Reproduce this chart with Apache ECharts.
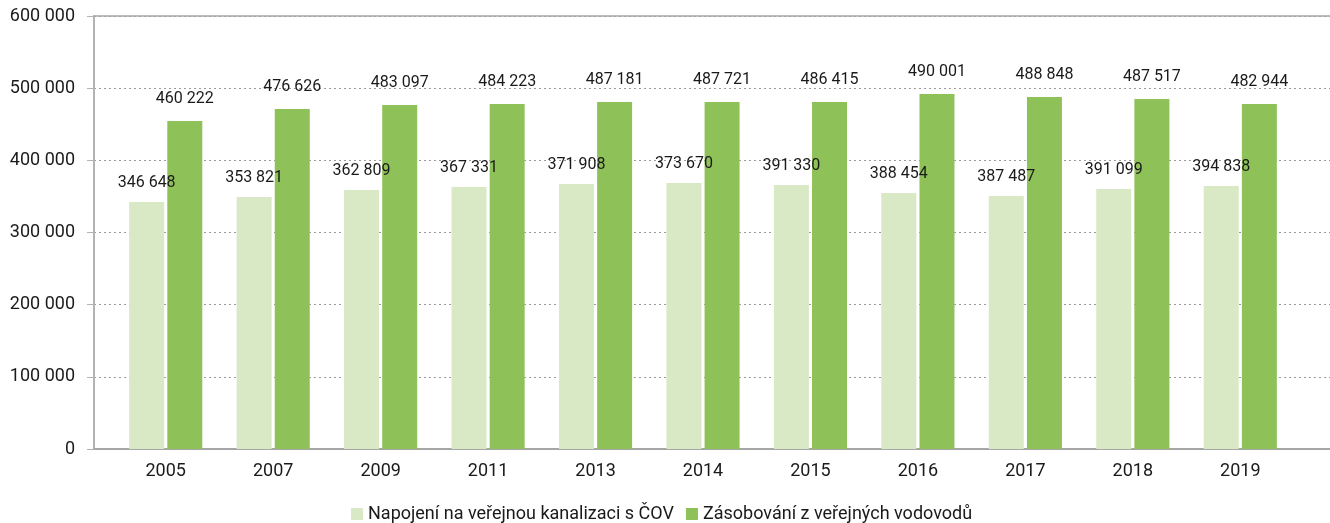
<!DOCTYPE html>
<html>
<head>
<meta charset="utf-8">
<script src="https://cdn.jsdelivr.net/npm/echarts@6/dist/echarts.min.js"></script>
<style>
  html, body { margin: 0; padding: 0; background: #fff; }
  #chart { width: 1330px; height: 523px; }
</style>
</head>
<body>
<div id="chart"></div>
<script>
// roky
var years = ['2005', '2007', '2009', '2011', '2013', '2014', '2015', '2016', '2017', '2018', '2019']
// popisky nad sloupci (hodnoty jak jsou vytistene v grafu)
var kanalizaceLabels = [346648, 353821, 362809, 367331, 371908, 373670, 391330, 388454, 387487, 391099, 394838]
var vodovodyLabels = [460222, 476626, 483097, 484223, 487181, 487721, 486415, 490001, 488848, 487517, 482944]
// vysky sloupcu
var kanalizaceBars = [342200, 349200, 358900, 363000, 367200, 368600, 365800, 354700, 350600, 360300, 364400]
var vodovodyBars = [454500, 471100, 476700, 478000, 480800, 480800, 480800, 491900, 487700, 485000, 478000]
var yTicks = [0, 100000, 200000, 300000, 400000, 500000, 600000]

var seriesNames = ['Napojení na veřejnou kanalizaci s ČOV', 'Zásobování z veřejných vodovodů']
var FONT = 'Roboto'

function fmt(v) {
  return String(v).replace(/\B(?=(\d{3})+(?!\d))/g, ' ')
}

var chart = echarts.init(document.getElementById('chart'))
chart.setOption({
  animation: false,
  textStyle: { fontFamily: FONT, color: '#1a1a1a' },
  legend: {
    left: 346,
    top: 500,
    itemWidth: 12,
    itemHeight: 12,
    itemGap: 12,
    icon: 'rect',
    textStyle: { fontFamily: FONT, fontSize: 18, color: '#1a1a1a' },
    data: seriesNames
  },
  grid: [
    // sloupce
    { left: 112, right: 36, top: 16, bottom: 74 },
    // osy a mrizka
    { left: 94, right: 0, top: 16, bottom: 74 }
  ],
  xAxis: [
    {
      type: 'category',
      gridIndex: 0,
      data: years,
      axisLine: { show: false },
      axisTick: { show: false },
      axisLabel: { fontFamily: FONT, fontSize: 18, color: '#1a1a1a', margin: 13 }
    },
    {
      type: 'value',
      gridIndex: 1,
      min: 0,
      max: 1,
      axisLine: { show: true, lineStyle: { color: '#a6a6a6', width: 2 } },
      axisTick: { show: false },
      axisLabel: { show: false },
      splitLine: { show: false }
    },
    {
      type: 'value',
      gridIndex: 1,
      position: 'top',
      min: 0,
      max: 1,
      axisLine: { show: true, lineStyle: { color: '#a6a6a6', width: 1.5 } },
      axisTick: { show: false },
      axisLabel: { show: false },
      splitLine: { show: false }
    }
  ],
  yAxis: [
    {
      type: 'value',
      gridIndex: 0,
      min: yTicks[0],
      max: yTicks[yTicks.length - 1],
      show: false,
      splitLine: { show: false }
    },
    {
      type: 'value',
      gridIndex: 1,
      min: yTicks[0],
      max: yTicks[yTicks.length - 1],
      interval: yTicks[1] - yTicks[0],
      axisLine: { show: true, lineStyle: { color: '#b3b3b3', width: 2 } },
      axisTick: { show: true, length: 7, lineStyle: { color: '#b3b3b3' } },
      axisLabel: {
        fontFamily: FONT,
        fontSize: 18,
        color: '#1a1a1a',
        margin: 19,
        formatter: function (v) { return fmt(v) }
      },
      splitLine: {
        show: true,
        lineStyle: { color: '#9a9a9a', type: [2, 3], width: 1 }
      }
    }
  ],
  series: [
    {
      name: seriesNames[0],
      type: 'bar',
      xAxisIndex: 0,
      yAxisIndex: 0,
      barWidth: 35,
      barGap: '9%',
      itemStyle: { color: '#d9e8c5' },
      label: {
        show: true,
        position: 'top',
        distance: 11,
        fontFamily: FONT,
        fontSize: 16,
        color: '#1a1a1a',
        formatter: function (p) { return fmt(kanalizaceLabels[p.dataIndex]) }
      },
      data: kanalizaceBars
    },
    {
      name: seriesNames[1],
      type: 'bar',
      xAxisIndex: 0,
      yAxisIndex: 0,
      barWidth: 35,
      barGap: '9%',
      itemStyle: { color: '#8ec157' },
      label: {
        show: true,
        position: 'top',
        distance: 14,
        fontFamily: FONT,
        fontSize: 16,
        color: '#1a1a1a',
        formatter: function (p) { return fmt(vodovodyLabels[p.dataIndex]) }
      },
      data: vodovodyBars
    }
  ]
})
</script>
</body>
</html>
